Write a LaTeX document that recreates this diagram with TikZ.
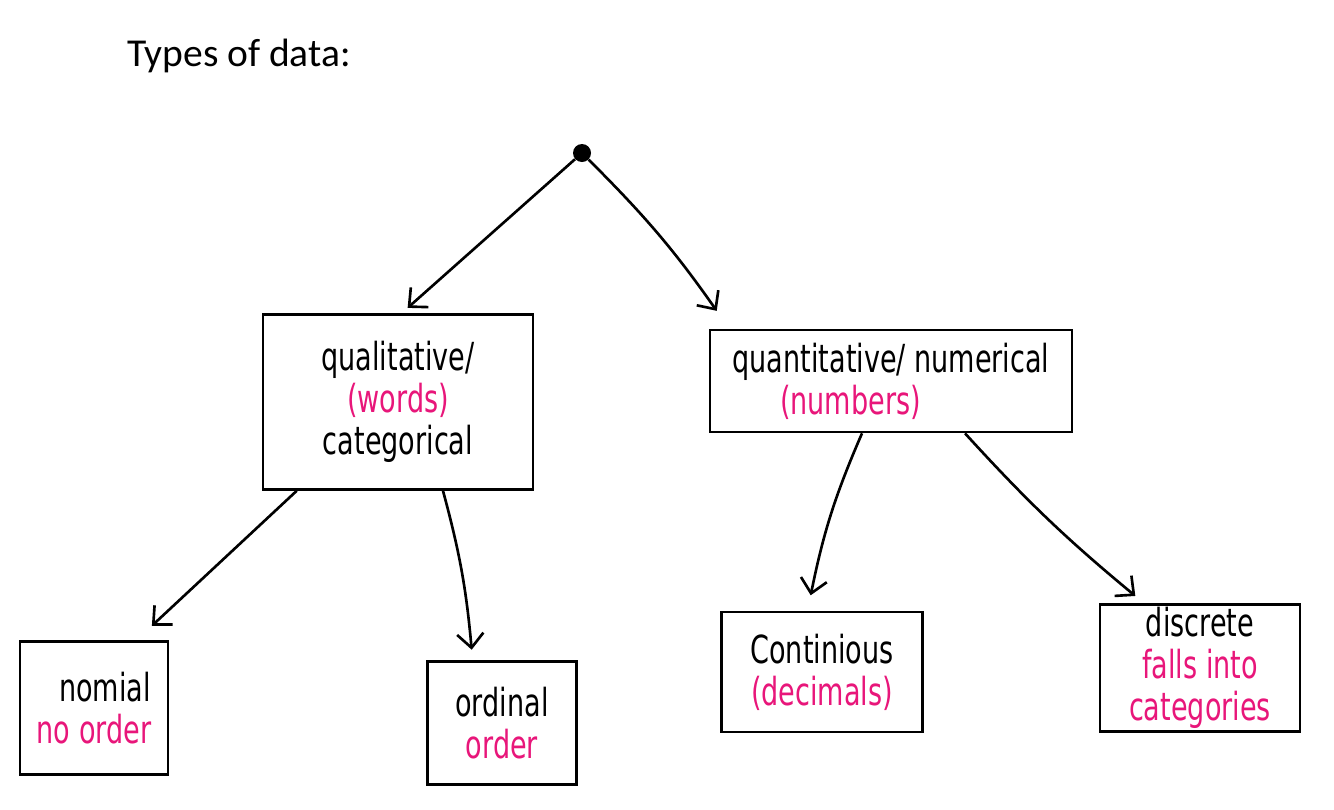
\documentclass[tikz,border=0pt]{standalone}
\usepackage{fontspec}
\setmainfont{Carlito}
\newfontfamily\handfont[FakeStretch=0.7]{DejaVu Sans}
\usetikzlibrary{arrows.meta}
\definecolor{inkpink}{RGB}{232,22,122}
\newcommand{\pk}[1]{\textcolor{inkpink}{#1}}
\begin{document}
\begin{tikzpicture}[
  x=0.02cm, y=-0.02cm,
  box/.style={draw, line width=1.5pt, align=center, inner sep=0pt,
              font=\handfont\fontsize{22}{24}\selectfont},
  arrow/.style={-{Straight Barb[length=8pt,width=15pt]}, line width=1.5pt,
                shorten >=2pt},
  title/.style={font=\fontsize{22.5}{26}\selectfont, anchor=base west}
]
  \useasboundingbox (0,0) rectangle (1334,809);

  \node[title] (title) at (121,66) {Types of data:};
  \node[circle, fill=black, inner sep=0pt, minimum size=0.36cm] (dot) at (582,153) {};

  % first level
  \node[box, minimum width=5.4cm, minimum height=3.5cm] (qual) at (398,402)
    {qualitative/\\\pk{(words)}\\categorical};
  \node[box, align=left, minimum width=7.24cm, minimum height=2.04cm] (quant) at (891,381)
    {quantitative/ numerical\\\hspace*{0.95cm}\pk{(numbers)}};

  % second level
  \node[box, align=left, minimum width=2.96cm, minimum height=2.66cm] (nomial) at (94,708)
    {\hspace*{0.45cm}nomial\\\pk{no order}};
  \node[box, minimum width=2.98cm, minimum height=2.46cm] (ordinal) at (502,723)
    {ordinal\\\pk{order}};
  \node[box, minimum width=4.02cm, minimum height=2.4cm] (continious) at (822,672)
    {Continious\\\pk{(decimals)}};
  \node[box, minimum width=4.0cm, minimum height=2.54cm] (discrete) at (1200,668)
    {discrete\\\pk{falls into}\\\pk{categories}};

  \draw[arrow] (dot) -- ([xshift=0.14cm,yshift=0.06cm]qual.north);
  \draw[arrow] (dot) to[out=-45,in=125] ([xshift=0.2cm,yshift=0.3cm]quant.north west);
  \draw[arrow] ([xshift=0.7cm]qual.south west) -- ([xshift=-0.4cm,yshift=0.24cm]nomial.north east);
  \draw[arrow] ([xshift=0.9cm]qual.south) to[bend left=5] ([xshift=-0.6cm,yshift=0.14cm]ordinal.north);
  \draw[arrow] ([xshift=-0.58cm]quant.south) to[bend right=6] ([xshift=-0.24cm,yshift=0.24cm]continious.north);
  \draw[arrow] ([xshift=1.48cm]quant.south) to[bend right=4] ([xshift=-1.24cm,yshift=0.1cm]discrete.north);
\end{tikzpicture}
\end{document}
